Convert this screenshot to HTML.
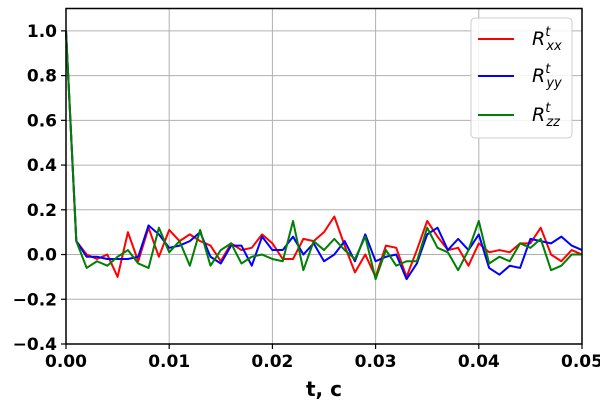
<!DOCTYPE html>
<html><head><meta charset="utf-8"><style>
body{margin:0;background:#fff;}
svg text{font-family:"DejaVu Sans","Liberation Sans",sans-serif;}
</style></head><body>
<svg id="chart" width="600" height="400">
<g id="grid"></g>
<g id="series"></g>
<rect x="66" y="8.5" width="516" height="335.5" fill="none" stroke="#000" stroke-width="1.5"/>
<g id="ticks"></g>
<text x="324" y="396" text-anchor="middle" font-size="20" font-weight="bold">t, c</text>
<g>
<rect x="471" y="18" width="101" height="120" rx="4" fill="#fff" fill-opacity="0.85" stroke="#ccc"/>
<g><line x1="478" y1="39" x2="514" y2="39" stroke="red" stroke-width="2"/><text x="532" y="45" font-size="19" font-style="italic">R<tspan font-size="13" dy="-9">t</tspan><tspan font-size="13" dx="-4" dy="14">xx</tspan></text></g>
<g><line x1="478" y1="76" x2="514" y2="76" stroke="blue" stroke-width="2"/><text x="532" y="82" font-size="19" font-style="italic">R<tspan font-size="13" dy="-9">t</tspan><tspan font-size="13" dx="-4" dy="14">yy</tspan></text></g>
<g><line x1="478" y1="115" x2="514" y2="115" stroke="green" stroke-width="2"/><text x="532" y="121" font-size="19" font-style="italic">R<tspan font-size="13" dy="-9">t</tspan><tspan font-size="13" dx="-4" dy="14">zz</tspan></text></g>
</g>
</svg>
<script>
const xTicks=[0,0.01,0.02,0.03,0.04,0.05];
const xTickLabels=["0.00","0.01","0.02","0.03","0.04","0.05"];
const yTicks=[-0.4,-0.2,0,0.2,0.4,0.6,0.8,1.0];
const yTickLabels=["\u22120.4","\u22120.2","0.0","0.2","0.4","0.6","0.8","1.0"];
const dt=0.001;
const rxx=[1.0,0.06,0.0,-0.02,0.0,-0.1,0.1,-0.03,0.12,-0.01,0.11,0.06,0.09,0.06,0.04,-0.03,0.05,0.02,0.03,0.09,0.05,-0.02,-0.02,0.07,0.06,0.1,0.17,0.04,-0.08,0.0,-0.1,0.04,0.03,-0.1,0.02,0.15,0.08,0.02,0.03,-0.05,0.05,0.01,0.02,0.01,0.05,0.05,0.12,0.0,-0.03,0.02,0.0];
const ryy=[1.0,0.06,-0.01,-0.01,-0.02,-0.02,-0.02,-0.01,0.13,0.09,0.03,0.04,0.06,0.1,-0.01,-0.04,0.04,0.04,-0.05,0.08,0.02,0.02,0.08,0.0,0.05,-0.03,0.0,0.06,-0.03,0.09,-0.03,-0.01,0.0,-0.11,-0.04,0.09,0.12,0.02,0.07,0.02,0.09,-0.06,-0.09,-0.05,-0.06,0.07,0.06,0.05,0.08,0.04,0.02];
const rzz=[1.0,0.06,-0.06,-0.03,-0.05,-0.01,0.02,-0.04,-0.06,0.12,0.01,0.06,-0.05,0.11,-0.05,0.02,0.05,-0.04,-0.01,0.0,-0.02,-0.03,0.15,-0.07,0.06,0.02,0.07,0.02,-0.02,0.08,-0.11,0.02,-0.05,-0.03,-0.03,0.12,0.03,0.01,-0.07,0.02,0.15,-0.04,-0.01,-0.03,0.05,0.03,0.07,-0.07,-0.05,0.0,0.0];
const X0=66,X1=582,Y0=344,Y1=8.5,xmin=0,xmax=0.05,ymin=-0.4,ymax=1.1;
const sx=v=>X0+(v-xmin)/(xmax-xmin)*(X1-X0);
const sy=v=>Y0-(v-ymin)/(ymax-ymin)*(Y0-Y1);
const NS="http://www.w3.org/2000/svg";
const grid=document.getElementById('grid'),ticks=document.getElementById('ticks'),ser=document.getElementById('series');
function mk(tag,attrs,parent){const e=document.createElementNS(NS,tag);for(const k in attrs)e.setAttribute(k,attrs[k]);parent.appendChild(e);return e;}
xTicks.forEach((t,i)=>{const x=sx(t);
 const g=mk('line',{x1:x,x2:x,y1:Y1,y2:Y0,stroke:'#b0b0b0','stroke-width':1},grid);
 
 
 const tk=mk('line',{x1:x,x2:x,y1:Y0,y2:Y0+5,stroke:'#000','stroke-width':1.2},ticks);
 
 
 const tx=mk('text',{x:x,y:Y0+23,'text-anchor':'middle','font-size':17,'font-weight':'bold'},ticks);
 tx.textContent=xTickLabels[i];
 
 
});
yTicks.forEach((t,i)=>{const y=sy(t);
 const g=mk('line',{x1:X0,x2:X1,y1:y,y2:y,stroke:'#b0b0b0','stroke-width':1},grid);
 
 
 const tk=mk('line',{x1:X0-5,x2:X0,y1:y,y2:y,stroke:'#000','stroke-width':1.2},ticks);
 
 
 const tx=mk('text',{x:X0-9,y:y+6,'text-anchor':'end','font-size':17,'font-weight':'bold'},ticks);
 tx.textContent=yTickLabels[i];
 
 
});
[[rxx,'red','rxx-line'],[ryy,'blue','ryy-line'],[rzz,'green','rzz-line']].forEach(([d,c,n])=>{
 const pts=d.map((v,i)=>sx(i*dt).toFixed(2)+','+sy(v).toFixed(2)).join(' ');
 const p=mk('polyline',{points:pts,fill:'none',stroke:c,'stroke-width':2,'stroke-linejoin':'round'},ser);
 
 
});
</script>
</body></html>
